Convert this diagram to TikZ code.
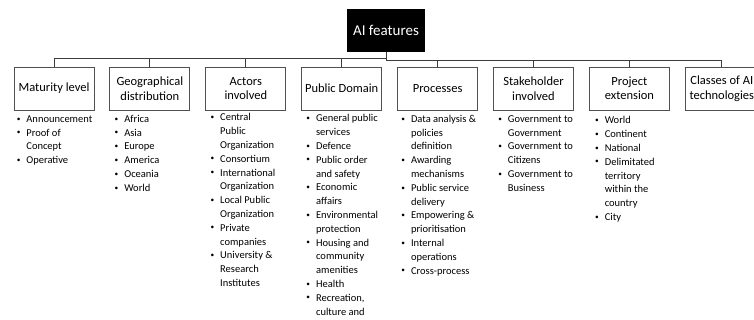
\documentclass[tikz,border=0pt]{standalone}
\usepackage{fontspec}
\setmainfont{Carlito}
\usepackage{xcolor}
\usepackage{graphicx}
\usepackage{tikz}
\usetikzlibrary{positioning}

\definecolor{linegray}{HTML}{3C3C3C}
\definecolor{boxgray}{HTML}{505050}
\newcommand{\bl}{\raisebox{0.25ex}{\scalebox{0.7}{\textbullet}}}

\begin{document}
\begin{tikzpicture}[x=1pt,y=1pt,
    featbox/.style={draw=boxgray, line width=0.9pt, minimum width=80pt, minimum height=43pt,
        align=center, inner sep=2pt, font=\fontsize{12.5}{14.5}\selectfont},
    itemlist/.style={anchor=north west, inner sep=0pt, align=left, font=\fontsize{10.5}{13.8}\selectfont},
    link/.style={draw=linegray, line width=0.9pt}]
    \useasboundingbox (0,0) rectangle (754,320);

    % root
    \node[fill=black, text=white, minimum width=78pt, minimum height=43pt,
        font=\fontsize{15}{18}\selectfont] (ai) at (386,289.5) {AI features};

    % feature boxes
    \node[featbox] (maturity) at (54,231.5) {Maturity level};
    \node[featbox, right=15pt of maturity] (geo) {Geographical\\distribution};
    \node[featbox, right=15pt of geo] (actors) {Actors\\involved};
    \node[featbox, right=15pt of actors] (domain) {Public Domain};
    \node[featbox, right=15pt of domain] (proc) {Processes};
    \node[featbox, right=15pt of proc] (stake) {Stakeholder\\involved};
    \node[featbox, right=15pt of stake] (ext) {Project\\extension};
    \node[featbox, minimum width=73pt, right=15pt of ext] (classes) {Classes of AI\\technologies};

    % connectors
    \draw[link] (ai.south) -- ++(0,-6) -| (maturity.north);
    \draw[link] (ai.south) -- ++(0,-6) -| (geo.north);
    \draw[link] (ai.south) -- ++(0,-6) -| (actors.north);
    \draw[link] (ai.south) -- ++(0,-6) -| (domain.north);
    \draw[link] (ai.south) -- ++(0,-8) -| (proc.north);
    \draw[link] (ai.south) -- ++(0,-8) -| (stake.north);
    \draw[link] (ai.south) -- ++(0,-8) -| (ext.north);
    \draw[link] (ai.south) -- ++(0,-8) -| (classes.north);

    % bullet lists
    \node[itemlist] (maturity-list) at ([xshift=3pt,yshift=-2pt]maturity.south west) {%
        \begin{tabular}{@{}l@{\hspace{6pt}}l@{}}
            \bl & Announcement\\
            \bl & Proof of\\
                & Concept\\
            \bl & Operative
        \end{tabular}};
    \node[itemlist] (geo-list) at ([xshift=5pt,yshift=-2pt]geo.south west) {%
        \begin{tabular}{@{}l@{\hspace{6pt}}l@{}}
            \bl & Africa\\
            \bl & Asia\\
            \bl & Europe\\
            \bl & America\\
            \bl & Oceania\\
            \bl & World
        \end{tabular}};
    \node[itemlist] (actors-list) at ([xshift=5pt,yshift=-0.5pt]actors.south west) {%
        \begin{tabular}{@{}l@{\hspace{6pt}}l@{}}
            \bl & Central\\
                & Public\\
                & Organization\\
            \bl & Consortium\\
            \bl & International\\
                & Organization\\
            \bl & Local Public\\
                & Organization\\
            \bl & Private\\
                & companies\\
            \bl & University \&\\
                & Research\\
                & Institutes
        \end{tabular}};
    \node[itemlist] (domain-list) at ([xshift=5pt,yshift=-1.5pt]domain.south west) {%
        \begin{tabular}{@{}l@{\hspace{6pt}}l@{}}
            \bl & General public\\
                & services\\
            \bl & Defence\\
            \bl & Public order\\
                & and safety\\
            \bl & Economic\\
                & affairs\\
            \bl & Environmental\\
                & protection\\
            \bl & Housing and\\
                & community\\
                & amenities\\
            \bl & Health\\
            \bl & Recreation,\\
                & culture and
        \end{tabular}};
    \node[itemlist] (proc-list) at ([xshift=4pt,yshift=-2pt]proc.south west) {%
        \begin{tabular}{@{}l@{\hspace{6pt}}l@{}}
            \bl & Data analysis \&\\
                & policies\\
                & definition\\
            \bl & Awarding\\
                & mechanisms\\
            \bl & Public service\\
                & delivery\\
            \bl & Empowering \&\\
                & prioritisation\\
            \bl & Internal\\
                & operations\\
            \bl & Cross-process
        \end{tabular}};
    \node[itemlist] (stake-list) at ([xshift=5pt,yshift=-2pt]stake.south west) {%
        \begin{tabular}{@{}l@{\hspace{6pt}}l@{}}
            \bl & Government to\\
                & Government\\
            \bl & Government to\\
                & Citizens\\
            \bl & Government to\\
                & Business
        \end{tabular}};
    \node[itemlist] (ext-list) at ([xshift=6pt,yshift=-3.5pt]ext.south west) {%
        \begin{tabular}{@{}l@{\hspace{6pt}}l@{}}
            \bl & World\\
            \bl & Continent\\
            \bl & National\\
            \bl & Delimitated\\
                & territory\\
                & within the\\
                & country\\
            \bl & City
        \end{tabular}};
\end{tikzpicture}
\end{document}
